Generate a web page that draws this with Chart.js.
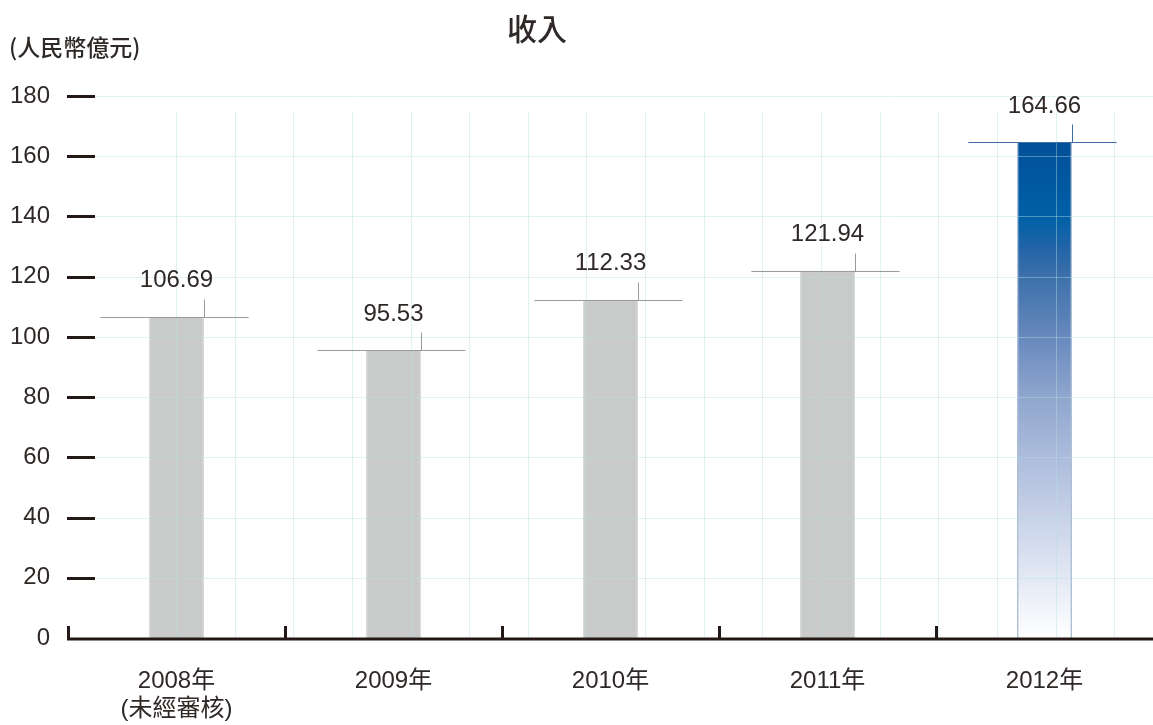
<!DOCTYPE html>
<html><head><meta charset="utf-8">
<script src="https://cdn.jsdelivr.net/npm/chart.js@4.4.1/dist/chart.umd.min.js"></script>
<style>html,body{margin:0;padding:0;background:#fff}#wrap{width:1153px;height:725px;position:relative}</style>
</head><body><div id="wrap"><canvas id="c" width="1153" height="725"></canvas></div>
<script>
const categories = [['2008年','(未經審核)'], ['2009年'], ['2010年'], ['2011年'], ['2012年']];
const revenue = [106.69, 95.53, 112.33, 121.94, 164.66];
const valueLabels = ['106.69', '95.53', '112.33', '121.94', '164.66'];
const yTicks = [0, 20, 40, 60, 80, 100, 120, 140, 160, 180];
const titleText = '收入';
const unitText = '(人民幣億元)';

const FONT = '"Liberation Sans", "Noto Sans CJK TC", sans-serif';
const CJK = '"Noto Sans CJK TC", sans-serif';
const TEXT = '#2e2826';

function drawGrid(chart, color) {
  const ctx = chart.ctx, a = chart.chartArea, ys = chart.scales.y;
  const w = a.right - a.left, step = w / 18.5;
  ctx.strokeStyle = color; ctx.lineWidth = 1;
  for (let i = 0; i < 17; i++) {
    const x = Math.round(a.left + w * 0.0995 + i * step) + 0.5;
    ctx.beginPath(); ctx.moveTo(x, a.top + 16); ctx.lineTo(x, a.bottom); ctx.stroke();
  }
  yTicks.forEach(v => {
    if (v === 0) return;
    const y = Math.round(ys.getPixelForValue(v)) + 0.5;
    ctx.beginPath(); ctx.moveTo(a.left + 27, y); ctx.lineTo(a.right, y); ctx.stroke();
  });
}

const deco = {
  id: 'deco',
  afterDatasetsDraw(chart) {
    const ctx = chart.ctx, a = chart.chartArea, ys = chart.scales.y;
    const meta = chart.getDatasetMeta(0);
    ctx.save();
    drawGrid(chart, 'rgba(180,223,223,0.42)');
    // y tick marks
    ctx.strokeStyle = '#231815'; ctx.lineWidth = 3;
    yTicks.forEach(v => {
      if (v === 0) return;
      const y = Math.round(ys.getPixelForValue(v)) + 0.5;
      ctx.beginPath(); ctx.moveTo(a.left - 1, y); ctx.lineTo(a.left + 27, y); ctx.stroke();
    });
    meta.data.forEach((bar, i) => {
      const last = i === meta.data.length - 1;
      const hw = bar.width / 2;
      const y = Math.round(bar.y) + 0.5;
      ctx.strokeStyle = last ? '#3f6fa6' : '#9a9a9a';
      ctx.lineWidth = 1;
      ctx.beginPath(); ctx.moveTo(bar.x - hw - 49, y); ctx.lineTo(bar.x + hw + 45, y); ctx.stroke();
      const xr = Math.round(bar.x + hw) + 0.5;
      ctx.beginPath(); ctx.moveTo(xr, y - 18); ctx.lineTo(xr, y); ctx.stroke();
      ctx.fillStyle = TEXT;
      ctx.font = '24px ' + FONT;
      ctx.textAlign = 'center'; ctx.textBaseline = 'middle';
      ctx.fillText(valueLabels[i], bar.x, bar.y - 36);
    });
    // x axis line and ticks
    const yb = a.bottom + 1;
    ctx.strokeStyle = '#231815'; ctx.lineWidth = 3;
    ctx.beginPath(); ctx.moveTo(a.left - 1, yb); ctx.lineTo(a.right, yb); ctx.stroke();
    const xs = chart.scales.x;
    const cw = (a.right - a.left) / categories.length;
    for (let i = 0; i < categories.length; i++) {
      const x = Math.round(xs.getPixelForValue(i) - cw / 2) + 0.5;
      ctx.beginPath(); ctx.moveTo(x, yb - 13); ctx.lineTo(x, yb); ctx.stroke();
    }
    // title and unit
    ctx.fillStyle = TEXT;
    ctx.font = '500 30px ' + CJK;
    ctx.textAlign = 'center'; ctx.textBaseline = 'middle';
    ctx.fillText(titleText, 537, 29);
    ctx.font = '500 23px ' + CJK;
    ctx.textAlign = 'left';
    ctx.fillText(unitText, 9, 47);
    ctx.restore();
  }
};

new Chart(document.getElementById('c'), {
  type: 'bar',
  data: {
    labels: categories,
    datasets: [{
      data: revenue,
      backgroundColor: (ctx) => {
        const chart = ctx.chart, a = chart.chartArea;
        if (!a) return '#c9cbca';
        if (ctx.dataIndex === revenue.length - 1) {
          const y0 = chart.scales.y.getPixelForValue(revenue[ctx.dataIndex]);
          const g = chart.ctx.createLinearGradient(0, y0, 0, a.bottom);
          g.addColorStop(0, '#024f99');
          g.addColorStop(0.15, '#0060a6');
          g.addColorStop(0.22, '#2565a8');
          g.addColorStop(0.27, '#3c70aa');
          g.addColorStop(0.39, '#6688bd');
          g.addColorStop(0.51, '#8ea5cd');
          g.addColorStop(0.635, '#acbcdc');
          g.addColorStop(0.756, '#c8d2e8');
          g.addColorStop(0.877, '#e2e8f4');
          g.addColorStop(1, '#ffffff');
          return g;
        }
        return '#c9cbca';
      },
      borderColor: (ctx) => ctx.dataIndex === revenue.length - 1 ? '#2c5a92' : '#9c9e9d',
      borderWidth: { left: 1, right: 1, top: 0, bottom: 0 },
      borderSkipped: false,
      categoryPercentage: 1,
      barPercentage: 0.25
    }]
  },
  options: {
    responsive: false,
    animation: false,
    devicePixelRatio: 1,
    layout: { padding: { top: 96, right: 0, left: 0, bottom: 0 } },
    plugins: { legend: { display: false }, title: { display: false }, tooltip: { enabled: false } },
    scales: {
      x: {
        grid: { display: false, drawTicks: false },
        border: { display: false },
        ticks: { color: TEXT, font: { family: FONT, size: 24, lineHeight: 1.15 }, padding: 30, maxRotation: 0 },
        afterFit(s) { s.height = 87; }
      },
      y: {
        min: 0, max: 180,
        afterBuildTicks(s) { s.ticks = yTicks.map(v => ({ value: v })); },
        grid: { display: false, drawTicks: false },
        border: { display: false },
        ticks: { color: TEXT, font: { family: FONT, size: 24 }, padding: 18 },
        afterFit(s) { s.width = 68; }
      }
    }
  },
  plugins: [deco]
});
</script>
</body></html>
